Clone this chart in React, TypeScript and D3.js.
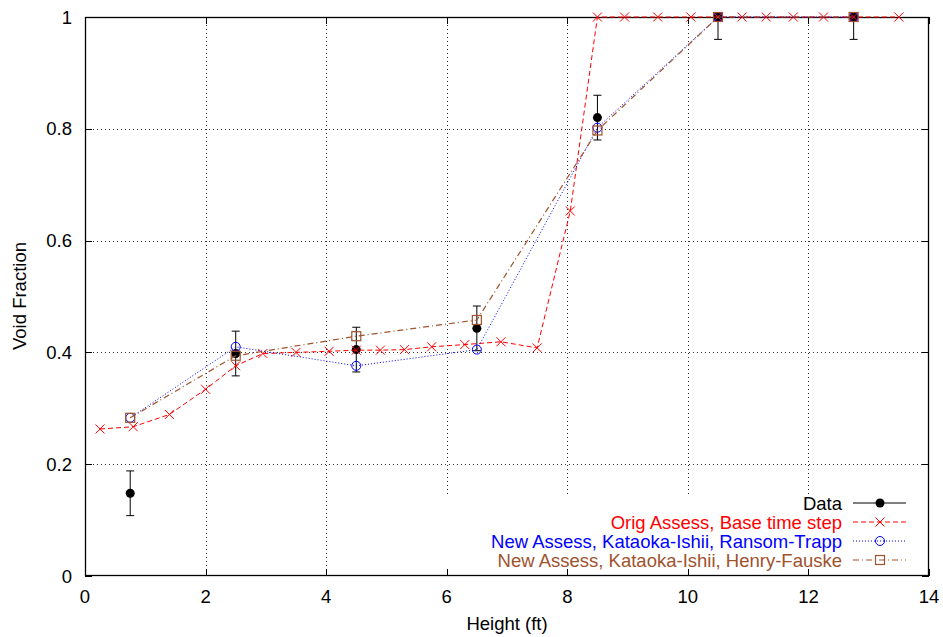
import React from "react";
import * as d3 from "d3";

const dataX = [0.75, 2.5, 4.5, 6.5, 8.5, 10.5, 12.75];
const dataY = [0.148, 0.398, 0.405, 0.443, 0.82, 1.0, 1.0];
const dataErr = [0.04, 0.04, 0.04, 0.04, 0.04, 0.04, 0.04];

const origX = [0.25, 0.8, 1.4, 2.0, 2.5, 2.95, 3.5, 4.05, 4.5, 4.9, 5.3, 5.75, 6.3, 6.9, 7.5, 8.05, 8.5, 8.95, 9.5, 10.05, 10.5, 10.9, 11.3, 11.75, 12.25, 12.75, 13.5];
const origY = [0.263, 0.267, 0.289, 0.334, 0.376, 0.398, 0.4, 0.402, 0.404, 0.404, 0.405, 0.41, 0.414, 0.419, 0.408, 0.653, 1, 1, 1, 1, 1, 1, 1, 1, 1, 1, 1];

const ransomX = [0.75, 2.5, 4.5, 6.5, 8.5, 10.5, 12.75];
const ransomY = [0.283, 0.41, 0.376, 0.405, 0.802, 1.0, 1.0];

const henryX = [0.75, 2.5, 4.5, 6.5, 8.5, 10.5, 12.75];
const henryY = [0.283, 0.394, 0.429, 0.458, 0.797, 1.0, 1.0];

const xTicks = [0, 2, 4, 6, 8, 10, 12, 14];
const yTicks = [0, 0.2, 0.4, 0.6, 0.8, 1];

const legendLabels = [
  "Data",
  "Orig Assess, Base time step",
  "New Assess, Kataoka-Ishii, Ransom-Trapp",
  "New Assess, Kataoka-Ishii, Henry-Fauske",
];

const FONT = "'Liberation Sans', Arial, Helvetica, sans-serif";

export default function App() {
  const W = 943, H = 637;
  const L = 85, R = 929, T = 17, B = 576;
  const x = d3.scaleLinear().domain([0, 14]).range([L, R]);
  const y = d3.scaleLinear().domain([0, 1]).range([B, T]);
  const line = d3.line<[number, number]>().x(d => x(d[0])).y(d => y(d[1]));
  const zip = (a: number[], b: number[]) => a.map((v, i) => [v, b[i]] as [number, number]);

  const RED = "#ff0000", BLUE = "#0000ff", BROWN = "#a0522d";
  const redDash = "5,3", blueDash = "1,2", brownDash = "6,3,1,3";
  const FS = 18.5;

  const cross = (cx: number, cy: number, c: string, k: string) => (
    <g key={k} stroke={c} strokeWidth={1}>
      <line x1={cx - 4.5} y1={cy - 4.5} x2={cx + 4.5} y2={cy + 4.5} />
      <line x1={cx - 4.5} y1={cy + 4.5} x2={cx + 4.5} y2={cy - 4.5} />
    </g>
  );
  const circ = (cx: number, cy: number, c: string, k: string) => (
    <circle key={k} cx={cx} cy={cy} r={4.5} fill="none" stroke={c} strokeWidth={1} />
  );
  const sq = (cx: number, cy: number, c: string, k: string) => (
    <rect key={k} x={cx - 4.5} y={cy - 4.5} width={9} height={9} fill="none" stroke={c} strokeWidth={1.2} />
  );
  const dot = (cx: number, cy: number, k: string) => (
    <circle key={k} cx={cx} cy={cy} r={4.5} fill="#000" />
  );

  const legTextX = 842, legLineX1 = 853, legLineX2 = 906, legMid = 880;
  const legRows = [503, 522, 541, 560];
  const legColors = ["#000", RED, BLUE, BROWN];

  return (
    <svg width={W} height={H} style={{ position: "absolute", left: 0, top: 0, background: "#fff" }} fontFamily={FONT}>
      <rect x={0} y={0} width={W} height={H} fill="#fff" />
      {/* grid */}
      <g stroke="#000" strokeWidth={1} strokeDasharray="1,3" opacity={0.8}>
        {xTicks.slice(1, -1).map(t => (
          <line key={"gx" + t} x1={Math.round(x(t)) + 0.5} x2={Math.round(x(t)) + 0.5} y1={T} y2={B} />
        ))}
        {yTicks.slice(1, -1).map(t => (
          <line key={"gy" + t} y1={Math.round(y(t)) + 0.5} y2={Math.round(y(t)) + 0.5} x1={L} x2={R} />
        ))}
      </g>
      {/* legend background */}
      <rect x={440} y={494} width={R - 441} height={B - 495} fill="#fff" />
      {/* ticks */}
      <g stroke="#000" strokeWidth={1}>
        {xTicks.map(t => (
          <g key={"tx" + t}>
            <line x1={Math.round(x(t)) + 0.5} x2={Math.round(x(t)) + 0.5} y1={B} y2={B - 7} />
            <line x1={Math.round(x(t)) + 0.5} x2={Math.round(x(t)) + 0.5} y1={T} y2={T + 7} />
          </g>
        ))}
        {yTicks.map(t => (
          <g key={"ty" + t}>
            <line y1={Math.round(y(t)) + 0.5} y2={Math.round(y(t)) + 0.5} x1={L} x2={L + 7} />
            <line y1={Math.round(y(t)) + 0.5} y2={Math.round(y(t)) + 0.5} x1={R} x2={R - 7} />
          </g>
        ))}
      </g>
      <rect x={L + 0.5} y={T + 0.5} width={R - L - 1} height={B - T - 1} fill="none" stroke="#000" strokeWidth={1.3} />
      {/* tick labels */}
      <g fontSize={FS} fill="#000">
        {xTicks.map(t => (
          <text key={"lx" + t} x={x(t)} y={603} textAnchor="middle">{t}</text>
        ))}
        {yTicks.map(t => (
          <text key={"ly" + t} x={72} y={y(t) + 6.5} textAnchor="end">{t === 0 || t === 1 ? String(t) : t.toFixed(1)}</text>
        ))}
        <text x={(L + R) / 2} y={630} textAnchor="middle">Height (ft)</text>
        <text transform={`translate(26,296) rotate(-90)`} textAnchor="middle">Void Fraction</text>
      </g>

      {/* Data with error bars */}
      <g stroke="#000" strokeWidth={1}>
        {dataX.map((v, i) => {
          const cx = x(v);
          const y1 = y(Math.min(1, dataY[i] + dataErr[i]));
          const y2 = y(dataY[i] - dataErr[i]);
          return (
            <g key={"eb" + i}>
              <line x1={cx} x2={cx} y1={y1} y2={y2} />
              <line x1={cx - 4} x2={cx + 4} y1={y2} y2={y2} />
              {dataY[i] + dataErr[i] <= 1 ? <line x1={cx - 4} x2={cx + 4} y1={y1} y2={y1} /> : null}
            </g>
          );
        })}
      </g>
      {dataX.map((v, i) => dot(x(v), y(dataY[i]), "d" + i))}

      {/* Orig */}
      <path d={line(zip(origX, origY)) || ""} fill="none" stroke={RED} strokeWidth={1} strokeDasharray={redDash} />
      {origX.map((v, i) => cross(x(v), y(origY[i]), RED, "o" + i))}

      {/* Ransom-Trapp */}
      <path d={line(zip(ransomX, ransomY)) || ""} fill="none" stroke={BLUE} strokeWidth={1} strokeDasharray={blueDash} />
      {ransomX.map((v, i) => circ(x(v), y(ransomY[i]), BLUE, "r" + i))}

      {/* Henry-Fauske */}
      <path d={line(zip(henryX, henryY)) || ""} fill="none" stroke={BROWN} strokeWidth={1.2} strokeDasharray={brownDash} />
      {henryX.map((v, i) => sq(x(v), y(henryY[i]), BROWN, "h" + i))}

      {/* legend */}
      <g fontSize={FS}>
        {legendLabels.map((lab, i) => (
          <text key={"lt" + i} x={legTextX} y={legRows[i] + 6.5} textAnchor="end" fill={legColors[i]}>{lab}</text>
        ))}
        <line x1={legLineX1} x2={legLineX2} y1={legRows[0]} y2={legRows[0]} stroke="#000" strokeWidth={1} />
        {dot(legMid, legRows[0], "ld")}
        <line x1={legLineX1} x2={legLineX2} y1={legRows[1]} y2={legRows[1]} stroke={RED} strokeWidth={1} strokeDasharray={redDash} />
        {cross(legMid, legRows[1], RED, "lc")}
        <line x1={legLineX1} x2={legLineX2} y1={legRows[2]} y2={legRows[2]} stroke={BLUE} strokeWidth={1} strokeDasharray={blueDash} />
        {circ(legMid, legRows[2], BLUE, "lo")}
        <line x1={legLineX1} x2={legLineX2} y1={legRows[3]} y2={legRows[3]} stroke={BROWN} strokeWidth={1.2} strokeDasharray={brownDash} />
        {sq(legMid, legRows[3], BROWN, "ls")}
      </g>
    </svg>
  );
}
